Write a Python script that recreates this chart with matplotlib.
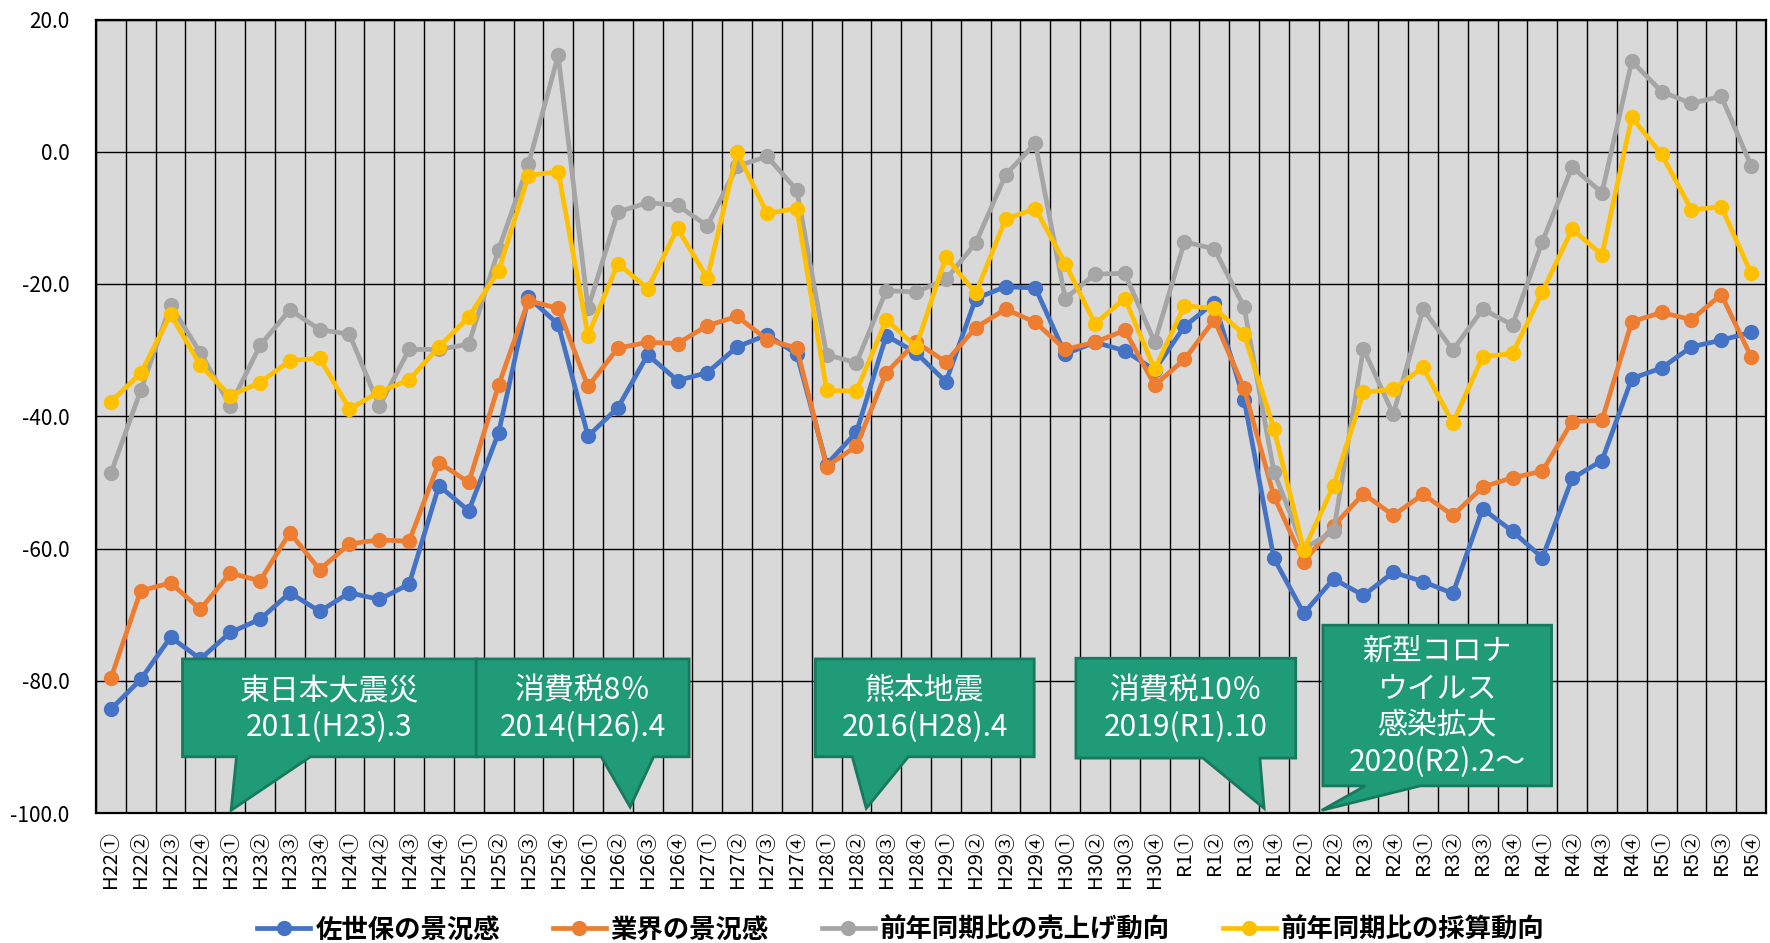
import matplotlib
matplotlib.use("Agg")
import matplotlib.pyplot as plt
import numpy as np
from matplotlib.patches import Polygon
from matplotlib.font_manager import FontProperties

plt.rcParams['font.family'] = ['Noto Sans CJK JP', 'DejaVu Sans']

# quarters H22① .. R5④
eras = ['H22', 'H23', 'H24', 'H25', 'H26', 'H27', 'H28', 'H29', 'H30',
        'R1', 'R2', 'R3', 'R4', 'R5']
quarter_marks = ['①', '②', '③', '④']
labels = [e + q for e in eras for q in quarter_marks]

sasebo = [-84.3, -79.8, -73.4, -76.7, -72.7, -70.7, -66.7, -69.5, -66.7, -67.7, -65.4, -50.5, -54.3,
          -42.5, -22.0, -26.1, -43.0, -38.7, -30.7, -34.6, -33.4, -29.5, -27.7, -30.6,
          -47.3, -42.4, -27.8, -30.4, -34.8, -22.2, -20.4, -20.6, -30.6, -28.8, -30.1,
          -33.0, -26.4, -22.8, -37.5, -61.5, -69.8, -64.6, -67.1, -63.6, -65.0, -66.8,
          -54.0, -57.4, -61.4, -49.4, -46.7, -34.3, -32.7, -29.5, -28.5, -27.3]
industry = [-79.6, -66.4, -65.2, -69.2, -63.7, -64.9, -57.6, -63.2, -59.3, -58.7, -58.9, -47.0, -50.0,
            -35.3, -22.5, -23.7, -35.5, -29.7, -28.8, -29.0, -26.3, -24.9, -28.4, -29.7,
            -47.6, -44.5, -33.4, -28.8, -31.8, -26.6, -23.8, -25.8, -29.9, -28.8, -27.0,
            -35.3, -31.4, -25.4, -35.8, -52.1, -62.0, -56.6, -51.7, -55.0, -51.8, -55.0,
            -50.7, -49.3, -48.3, -40.8, -40.6, -25.7, -24.3, -25.4, -21.6, -31.0]
sales = [-48.6, -36.1, -23.2, -30.4, -38.4, -29.3, -23.9, -26.9, -27.6, -38.5, -29.9, -29.9, -29.1,
         -14.8, -1.9, 14.6, -23.7, -9.1, -7.7, -8.1, -11.2, -2.2, -0.7, -5.8,
         -30.7, -31.9, -21.0, -21.2, -19.3, -13.8, -3.5, 1.3, -22.2, -18.5, -18.4,
         -28.8, -13.6, -14.7, -23.5, -48.4, -60.0, -57.4, -29.8, -39.7, -23.8, -30.0,
         -23.8, -26.2, -13.6, -2.3, -6.2, 13.7, 9.1, 7.3, 8.4, -2.1]
profit = [-37.8, -33.5, -24.6, -32.3, -36.9, -34.9, -31.6, -31.2, -38.9, -36.3, -34.5, -29.5, -25.0,
          -18.0, -3.6, -3.0, -27.8, -16.9, -20.7, -11.6, -19.1, -0.1, -9.3, -8.6,
          -36.1, -36.2, -25.4, -29.5, -15.9, -21.4, -10.2, -8.6, -16.9, -26.0, -22.2,
          -32.9, -23.3, -23.7, -27.6, -41.9, -60.2, -50.5, -36.4, -35.9, -32.6, -41.0,
          -31.0, -30.5, -21.2, -11.7, -15.6, 5.2, -0.4, -8.8, -8.3, -18.4]

series_names = ['佐世保の景況感', '業界の景況感', '前年同期比の売上げ動向', '前年同期比の採算動向']
series_colors = ['#4472C4', '#ED7D31', '#A5A5A5', '#FFC000']

# callouts (box / tail geometry in category-index and value units)
event_texts = ['東日本大震災\n2011(H23).3', '消費税8％\n2014(H26).4', '熊本地震\n2016(H28).4',
               '消費税10％\n2019(R1).10', '新型コロナ\nウイルス\n感染拡大\n2020(R2).2～']
box_x0 = [2.40, 12.25, 23.62, 32.36, 40.64]
box_x1 = [12.25, 19.39, 30.96, 39.73, 48.31]
box_top = [-76.7, -76.7, -76.7, -76.6, -71.6]
box_bot = [-91.5, -91.5, -91.5, -91.7, -95.9]
tail_b0 = [4.21, 16.44, 24.86, 36.62, 42.06]
tail_b1 = [6.69, 18.20, 26.74, 38.53, 43.90]
tip_x = [4.03, 17.41, 25.33, 38.67, 40.60]
tip_y = [-99.6, -99.1, -99.3, -99.3, -99.6]

W, H = 1770, 943
fig = plt.figure(figsize=(W / 100, H / 100), dpi=100)
ax = fig.add_axes([96 / W, 1 - 813 / H, (1766 - 96) / W, (813 - 19.5) / H])
ax.set_facecolor('#D9D9D9')

x = np.arange(len(labels))
for vals, name, col in zip([sasebo, industry, sales, profit], series_names, series_colors):
    ax.plot(x, vals, color=col, lw=3.4, marker='o', ms=10, label=name, zorder=3)

ax.set_xlim(-0.5, len(labels) - 0.5)
ax.set_ylim(-100, 20)
ax.set_xticks(x)
ax.set_xticklabels(labels, rotation=90, fontsize=14.5)
ax.set_xticks(np.arange(-0.5, len(labels), 1), minor=True)
yt = np.arange(-100, 21, 20)
ax.set_yticks(yt)
ax.set_yticklabels(['%.1f' % v for v in yt], fontsize=15)
ax.tick_params(axis='x', which='both', length=0, pad=13)
ax.tick_params(axis='y', length=0, pad=19)
ax.grid(which='minor', axis='x', color='black', lw=1.0)
ax.grid(which='major', axis='y', color='black', lw=1.0)
ax.grid(which='major', axis='x', visible=False)
ax.set_axisbelow(True)
for s in ax.spines.values():
    s.set_color('black')
    s.set_linewidth(1.6)

for i, txt in enumerate(event_texts):
    pts = [(box_x0[i], box_top[i]), (box_x1[i], box_top[i]), (box_x1[i], box_bot[i]),
           (tail_b1[i], box_bot[i]), (tip_x[i], tip_y[i]), (tail_b0[i], box_bot[i]),
           (box_x0[i], box_bot[i])]
    ax.add_patch(Polygon(pts, closed=True, facecolor='#1F9B78', edgecolor='#17795D',
                         lw=2, zorder=5, clip_on=False))
    ax.text((box_x0[i] + box_x1[i]) / 2, (box_top[i] + box_bot[i]) / 2 - 0.2, txt,
            ha='center', va='center', color='white', fontsize=21.5, linespacing=1.25, zorder=6)

handles, names = ax.get_legend_handles_labels()
fig.legend(handles, names, loc='center', bbox_to_anchor=(0.509, 1 - 930 / H), ncol=4,
           frameon=False, prop=FontProperties(family=['Noto Sans CJK JP'], weight='bold', size=19),
           handlelength=2.0, columnspacing=2.0, handletextpad=0.2)

fig.savefig('out.png', dpi=100, facecolor='white')
